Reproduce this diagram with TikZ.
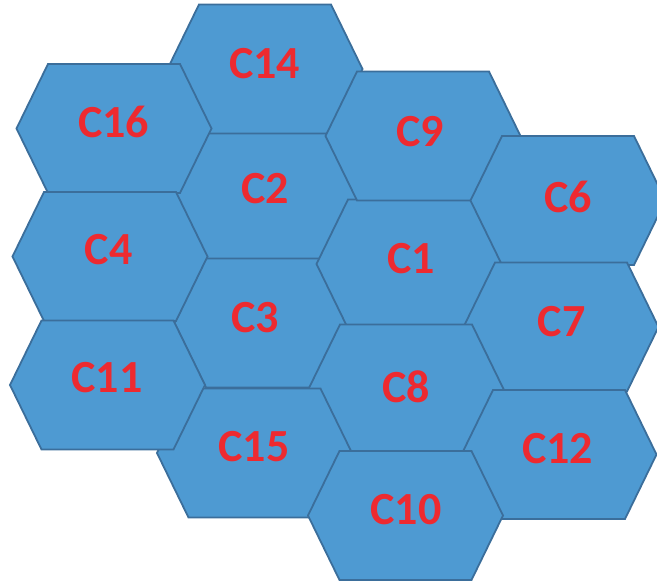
\documentclass[tikz,border=0pt]{standalone}
\usepackage{fontspec}
\setmainfont{Carlito}
\usepackage{xcolor}
\definecolor{CellBlue}{HTML}{4E9AD2}
\definecolor{CellEdge}{HTML}{3B6E9B}
\definecolor{CellRed}{HTML}{ED2A30}
\usepackage{tikz}

% hexagonal cell outline centred at (#1,#2)
\newcommand{\hexat}[2]{%
  \draw[cellbox] (#1-97.5,#2) -- (#1-66,#2-64.5) -- (#1+66,#2-64.5)
    -- (#1+97.5,#2) -- (#1+66,#2+64.5) -- (#1-66,#2+64.5) -- cycle;
}

\begin{document}
\begin{tikzpicture}[
  x=1pt, y=-1pt,
  cellbox/.style={
    fill=CellBlue,
    draw=CellEdge,
    line width=1.8pt,
    line join=miter
  },
  celltext/.style={
    inner sep=0pt,
    text=CellRed,
    font=\bfseries\fontsize{46}{46}\selectfont
  }
]
\useasboundingbox (0,0) rectangle (657,585);

% cells, back to front
\hexat{274}{195.5}   % C2
\hexat{272}{323}     % C3
\hexat{414}{264}     % C1
\hexat{265}{69}      % C14
\hexat{423}{136}     % C9
\hexat{568}{200.5}   % C6
\hexat{561}{327}     % C7
\hexat{406}{389}     % C8
\hexat{559}{454.5}   % C12
\hexat{254.5}{453}   % C15
\hexat{405.5}{515.5} % C10
\hexat{114}{128.5}   % C16
\hexat{110}{256.5}   % C4
\hexat{107.5}{385}   % C11

% labels
\node[celltext] (c14) at (264.5,63.5) {C14};
\node[celltext] (c16) at (113.5,122) {C16};
\node[celltext] (c9) at (420,132) {C9};
\node[celltext] (c2) at (265,189) {C2};
\node[celltext] (c6) at (568,196.5) {C6};
\node[celltext] (c4) at (108.5,250) {C4};
\node[celltext] (c1) at (411,258.5) {C1};
\node[celltext] (c3) at (255,317.5) {C3};
\node[celltext] (c7) at (561.5,322) {C7};
\node[celltext] (c11) at (107,378) {C11};
\node[celltext] (c8) at (406,387) {C8};
\node[celltext] (c15) at (254,447) {C15};
\node[celltext] (c12) at (557.5,448.5) {C12};
\node[celltext] (c10) at (406,509.5) {C10};

\end{tikzpicture}
\end{document}
